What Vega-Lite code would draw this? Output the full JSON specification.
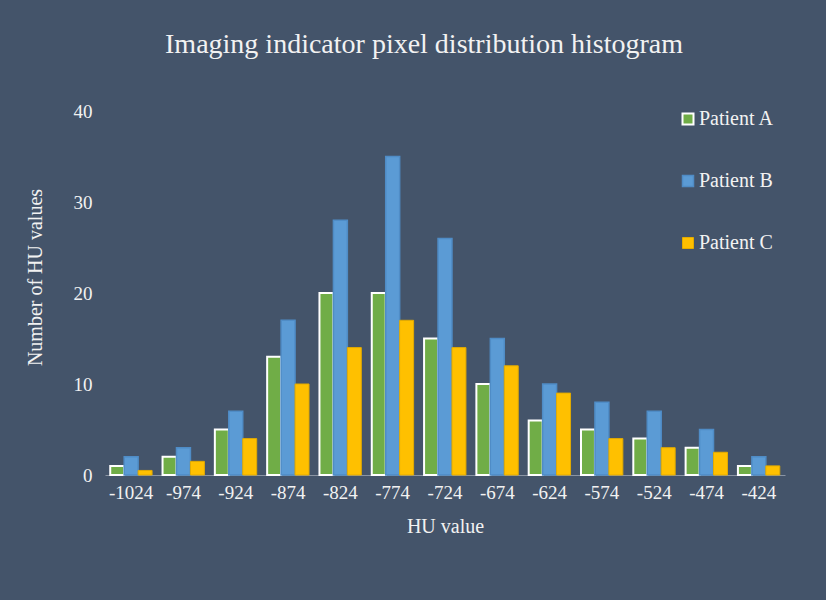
{
  "$schema": "https://vega.github.io/schema/vega-lite/v6.json",
  "width": 680,
  "height": 364,
  "autosize": {"type": "none"},
  "padding": {"left": 105, "top": 111, "right": 41, "bottom": 125},
  "background": "#44546A",
  "config": {
    "view": {"stroke": null},
    "font": "Liberation Serif",
    "axis": {"labelFont": "Liberation Serif", "titleFont": "Liberation Serif", "labelColor": "#f2f2f2", "titleColor": "#f2f2f2", "labelFontSize": 19, "titleFontSize": 20, "titleFontWeight": "normal", "grid": false},
    "legend": {"labelFont": "Liberation Serif", "labelColor": "#f2f2f2", "labelFontSize": 20}
  },
  "title": {
    "text": "Imaging indicator pixel distribution histogram",
    "font": "Liberation Serif",
    "fontSize": 28,
    "fontWeight": "normal",
    "color": "#f2f2f2",
    "anchor": "middle",
    "dx": -21,
    "offset": 43
  },
  "data": {
    "values": [
      {"hu": "-1024", "patient": "Patient A", "count": 1},
      {"hu": "-1024", "patient": "Patient B", "count": 2},
      {"hu": "-1024", "patient": "Patient C", "count": 0.5},
      {"hu": "-974", "patient": "Patient A", "count": 2},
      {"hu": "-974", "patient": "Patient B", "count": 3},
      {"hu": "-974", "patient": "Patient C", "count": 1.5},
      {"hu": "-924", "patient": "Patient A", "count": 5},
      {"hu": "-924", "patient": "Patient B", "count": 7},
      {"hu": "-924", "patient": "Patient C", "count": 4},
      {"hu": "-874", "patient": "Patient A", "count": 13},
      {"hu": "-874", "patient": "Patient B", "count": 17},
      {"hu": "-874", "patient": "Patient C", "count": 10},
      {"hu": "-824", "patient": "Patient A", "count": 20},
      {"hu": "-824", "patient": "Patient B", "count": 28},
      {"hu": "-824", "patient": "Patient C", "count": 14},
      {"hu": "-774", "patient": "Patient A", "count": 20},
      {"hu": "-774", "patient": "Patient B", "count": 35},
      {"hu": "-774", "patient": "Patient C", "count": 17},
      {"hu": "-724", "patient": "Patient A", "count": 15},
      {"hu": "-724", "patient": "Patient B", "count": 26},
      {"hu": "-724", "patient": "Patient C", "count": 14},
      {"hu": "-674", "patient": "Patient A", "count": 10},
      {"hu": "-674", "patient": "Patient B", "count": 15},
      {"hu": "-674", "patient": "Patient C", "count": 12},
      {"hu": "-624", "patient": "Patient A", "count": 6},
      {"hu": "-624", "patient": "Patient B", "count": 10},
      {"hu": "-624", "patient": "Patient C", "count": 9},
      {"hu": "-574", "patient": "Patient A", "count": 5},
      {"hu": "-574", "patient": "Patient B", "count": 8},
      {"hu": "-574", "patient": "Patient C", "count": 4},
      {"hu": "-524", "patient": "Patient A", "count": 4},
      {"hu": "-524", "patient": "Patient B", "count": 7},
      {"hu": "-524", "patient": "Patient C", "count": 3},
      {"hu": "-474", "patient": "Patient A", "count": 3},
      {"hu": "-474", "patient": "Patient B", "count": 5},
      {"hu": "-474", "patient": "Patient C", "count": 2.5},
      {"hu": "-424", "patient": "Patient A", "count": 1},
      {"hu": "-424", "patient": "Patient B", "count": 2},
      {"hu": "-424", "patient": "Patient C", "count": 1}
    ]
  },
  "mark": {"type": "bar"},
  "encoding": {
    "x": {
      "field": "hu",
      "type": "ordinal",
      "sort": ["-1024", "-974", "-924", "-874", "-824", "-774", "-724", "-674", "-624", "-574", "-524", "-474", "-424"],
      "scale": {"paddingInner": 0.2, "paddingOuter": 0.1},
      "axis": {"title": "HU value", "labelAngle": 0, "ticks": false, "labelPadding": 8, "titlePadding": 14, "domainColor": "#8a94a3", "domainWidth": 1}
    },
    "y": {
      "field": "count",
      "type": "quantitative",
      "scale": {"domain": [0, 40], "nice": false},
      "axis": {"title": "Number of HU values", "values": [0, 10, 20, 30, 40], "ticks": false, "domain": false, "labelPadding": 13, "titlePadding": 28, "titleY": 166}
    },
    "xOffset": {"field": "patient", "type": "nominal", "sort": ["Patient A", "Patient B", "Patient C"]},
    "color": {
      "field": "patient",
      "type": "nominal",
      "scale": {"domain": ["Patient A", "Patient B", "Patient C"], "range": ["#70AD47", "#5B9BD5", "#FFC000"]},
      "legend": {"title": null, "orient": "none", "legendX": 573, "legendY": -2, "symbolType": "square", "symbolSize": 121, "rowPadding": 42, "labelOffset": 1, "padding": 0}
    },
    "stroke": {
      "field": "patient",
      "type": "nominal",
      "scale": {"domain": ["Patient A", "Patient B", "Patient C"], "range": ["#ffffff", "#4f8cc6", "#e3ab00"]},
      "legend": {"title": null, "orient": "none", "legendX": 573, "legendY": -2, "symbolType": "square", "symbolSize": 121, "rowPadding": 42, "labelOffset": 1, "padding": 0}
    },
    "strokeWidth": {
      "field": "patient",
      "type": "nominal",
      "scale": {"domain": ["Patient A", "Patient B", "Patient C"], "range": [2, 1, 1]},
      "legend": null
    }
  }
}
